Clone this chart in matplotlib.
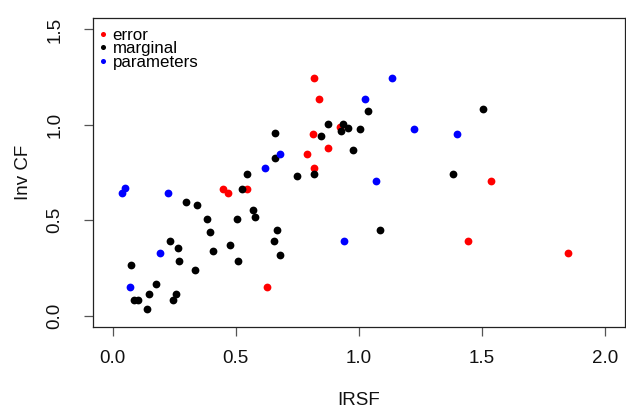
import matplotlib
matplotlib.use("Agg")
import matplotlib.pyplot as plt

plt.rcParams['font.family'] = ['Liberation Sans', 'DejaVu Sans']

# error points
err_x = [0.819, 0.839, 0.815, 0.876, 0.790, 0.816, 0.448, 0.468, 0.544,
         0.625, 1.537, 1.442, 1.848, 0.923]
err_y = [1.246, 1.135, 0.953, 0.881, 0.846, 0.775, 0.661, 0.644, 0.661,
         0.149, 0.707, 0.389, 0.328, 0.990]

# marginal points
mar_x = [0.658, 0.658, 0.544, 0.524, 0.750, 0.819, 0.844, 0.875, 0.937,
         0.928, 0.957, 0.976, 1.038, 1.505, 1.004, 1.380, 1.085, 0.298,
         0.342, 0.382, 0.504, 0.568, 0.576, 0.396, 0.666, 0.654, 0.681,
         0.233, 0.265, 0.271, 0.408, 0.477, 0.509, 0.335, 0.075, 0.174,
         0.148, 0.088, 0.101, 0.140, 0.246, 0.257]
mar_y = [0.956, 0.828, 0.744, 0.661, 0.733, 0.744, 0.939, 1.005, 1.005,
         0.965, 0.984, 0.868, 1.074, 1.084, 0.979, 0.744, 0.449, 0.595,
         0.579, 0.505, 0.505, 0.551, 0.516, 0.439, 0.451, 0.391, 0.316,
         0.391, 0.354, 0.284, 0.340, 0.372, 0.284, 0.238, 0.267, 0.167,
         0.111, 0.084, 0.084, 0.033, 0.084, 0.111]

# parameters points
par_x = [0.039, 0.048, 0.225, 0.617, 0.681, 0.193, 0.071, 0.940, 1.135,
         1.026, 1.224, 1.397, 1.070]
par_y = [0.644, 0.670, 0.644, 0.775, 0.846, 0.328, 0.149, 0.389, 1.246,
         1.133, 0.979, 0.953, 0.707]

x_ticks = [0.0, 0.5, 1.0, 1.5, 2.0]
y_ticks = [0.0, 0.5, 1.0, 1.5]

fig = plt.figure(figsize=(6.26, 4.08), dpi=100)
ax = fig.add_axes([0.1486, 0.1985, 0.8498, 0.7574])

ms = 5.6
ax.plot(err_x, err_y, 'o', color='#ff0000', ms=ms, mew=0, label='error')
ax.plot(mar_x, mar_y, 'o', color='black', ms=ms, mew=0, label='marginal')
ax.plot(par_x, par_y, 'o', color='#0000ff', ms=ms, mew=0, label='parameters')

ax.set_xlim(-0.08, 2.08)
ax.set_ylim(-0.06, 1.56)
ax.set_xticks(x_ticks)
ax.set_yticks(y_ticks)
ax.set_xticklabels([f"{v:.1f}" for v in x_ticks])
ax.set_yticklabels([f"{v:.1f}" for v in y_ticks], rotation=90, va='center')

for s in ax.spines.values():
    s.set_color('#222222')
    s.set_linewidth(0.9)
ax.tick_params(axis='both', direction='out', length=6.5, width=0.9,
               color='#555555', labelsize=13.5, labelcolor='#111111')
ax.tick_params(axis='x', pad=10)
ax.tick_params(axis='y', pad=15)

ax.set_xlabel("IRSF", fontsize=13.5, color='#111111', labelpad=18)
ax.set_ylabel("Inv CF", fontsize=13.5, color='#111111', labelpad=10)

leg = ax.legend(loc='upper left', bbox_to_anchor=(0.0, 0.985), frameon=False,
                fontsize=12.2, markerscale=0.65, handlelength=0.6,
                handletextpad=0.25, labelspacing=-0.08, borderaxespad=0.2,
                borderpad=0.1)

fig.savefig("out.png", dpi=100)
